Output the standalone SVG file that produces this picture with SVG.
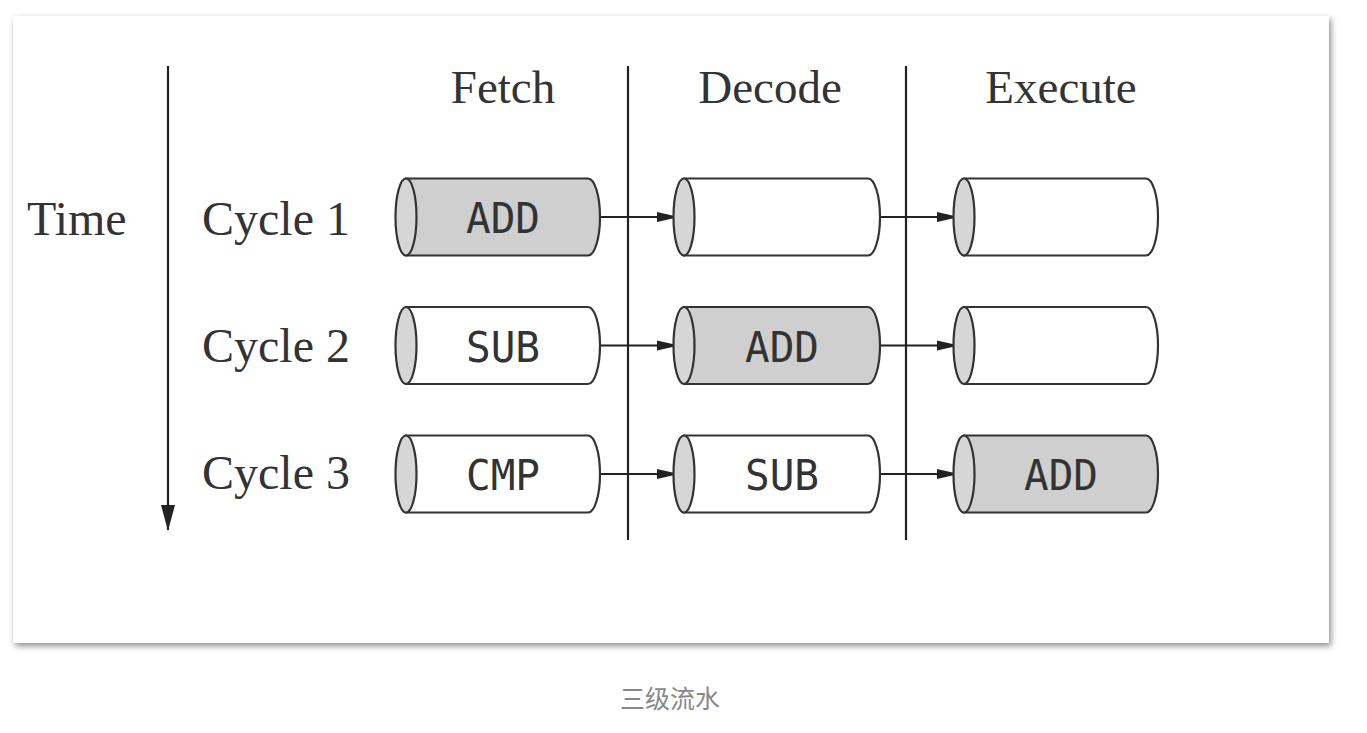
<svg xmlns="http://www.w3.org/2000/svg" width="1367" height="733" viewBox="0 0 1367 733">
<defs>
<filter id="sh" x="-5%" y="-5%" width="110%" height="110%">
<feGaussianBlur in="SourceAlpha" stdDeviation="3"/>
<feOffset dx="2" dy="3"/>
<feComponentTransfer><feFuncA type="linear" slope="0.45"/></feComponentTransfer>
<feMerge><feMergeNode/><feMergeNode in="SourceGraphic"/></feMerge>
</filter>
<marker id="ah" viewBox="0 0 22 12" refX="21" refY="6" markerWidth="22" markerHeight="12" markerUnits="userSpaceOnUse" orient="auto">
<path d="M0,1 L22,6 L0,11 Z" fill="#222"/>
</marker>
<marker id="ahT" viewBox="0 0 26 14" refX="25" refY="7" markerWidth="26" markerHeight="14" markerUnits="userSpaceOnUse" orient="auto">
<path d="M0,0 L26,7 L0,14 Z" fill="#222"/>
</marker>
</defs>
<style>
.hd{font-family:"Liberation Serif","DejaVu Serif",serif;font-size:47px;fill:#333;}
.lb{font-family:"Liberation Serif","DejaVu Serif",serif;font-size:48px;fill:#333;}
.op{font-family:"DejaVu Sans Mono","Liberation Mono",monospace;font-size:43px;fill:#333;text-anchor:middle;}
.body{stroke:#333;stroke-width:2.2;}
.on{fill:#cfcfcf;}
.off{fill:#ffffff;}
.cap{fill:#d6d6d6;stroke:#333;stroke-width:2.2;}
.ln{stroke:#222;stroke-width:2.2;fill:none;}
</style>
<rect x="13" y="16" width="1316" height="627" fill="#fff" filter="url(#sh)"/>
<rect x="13" y="16" width="1316" height="627" fill="#fff"/>

<g id="headers">
<text class="hd" x="503" y="103" text-anchor="middle">Fetch</text>
<text class="hd" x="770" y="103" text-anchor="middle">Decode</text>
<text class="hd" x="1061" y="103" text-anchor="middle">Execute</text>
</g>
<g id="labels">
<text class="lb" x="27" y="235">Time</text>
<text class="lb" x="202" y="235">Cycle 1</text>
<text class="lb" x="202" y="362">Cycle 2</text>
<text class="lb" x="202" y="489">Cycle 3</text>
</g>

<g id="connectors">
<line class="ln" x1="168" y1="66" x2="168" y2="530" marker-end="url(#ahT)"/>
<line class="ln" x1="628" y1="66" x2="628" y2="540"/>
<line class="ln" x1="906" y1="66" x2="906" y2="540"/>
<line class="ln" x1="600" y1="217" x2="678" y2="217" marker-end="url(#ah)"/>
<line class="ln" x1="880" y1="217" x2="958" y2="217" marker-end="url(#ah)"/>
<line class="ln" x1="600" y1="345.5" x2="678" y2="345.5" marker-end="url(#ah)"/>
<line class="ln" x1="880" y1="345.5" x2="958" y2="345.5" marker-end="url(#ah)"/>
<line class="ln" x1="600" y1="474" x2="678" y2="474" marker-end="url(#ah)"/>
<line class="ln" x1="880" y1="474" x2="958" y2="474" marker-end="url(#ah)"/>
</g>

<g id="f1"><path class="body on" d="M406,178.5 H588 A12,38.5 0 0 1 588,255.5 H406 Z"/><ellipse class="cap" cx="406" cy="217" rx="10.5" ry="38.5"/><text class="op" x="503" y="233" textLength="74" lengthAdjust="spacingAndGlyphs">ADD</text></g>
<g id="d1"><path class="body off" d="M684,178.5 H868 A12,38.5 0 0 1 868,255.5 H684 Z"/><ellipse class="cap" cx="684" cy="217" rx="10.5" ry="38.5"/></g>
<g id="e1"><path class="body off" d="M964,178.5 H1146 A12,38.5 0 0 1 1146,255.5 H964 Z"/><ellipse class="cap" cx="964" cy="217" rx="10.5" ry="38.5"/></g>

<g id="f2"><path class="body off" d="M406,307 H588 A12,38.5 0 0 1 588,384 H406 Z"/><ellipse class="cap" cx="406" cy="345.5" rx="10.5" ry="38.5"/><text class="op" x="503" y="361.5" textLength="74" lengthAdjust="spacingAndGlyphs">SUB</text></g>
<g id="d2"><path class="body on" d="M684,307 H868 A12,38.5 0 0 1 868,384 H684 Z"/><ellipse class="cap" cx="684" cy="345.5" rx="10.5" ry="38.5"/><text class="op" x="782" y="361.5" textLength="74" lengthAdjust="spacingAndGlyphs">ADD</text></g>
<g id="e2"><path class="body off" d="M964,307 H1146 A12,38.5 0 0 1 1146,384 H964 Z"/><ellipse class="cap" cx="964" cy="345.5" rx="10.5" ry="38.5"/></g>

<g id="f3"><path class="body off" d="M406,435.5 H588 A12,38.5 0 0 1 588,512.5 H406 Z"/><ellipse class="cap" cx="406" cy="474" rx="10.5" ry="38.5"/><text class="op" x="503" y="490" textLength="74" lengthAdjust="spacingAndGlyphs">CMP</text></g>
<g id="d3"><path class="body off" d="M684,435.5 H868 A12,38.5 0 0 1 868,512.5 H684 Z"/><ellipse class="cap" cx="684" cy="474" rx="10.5" ry="38.5"/><text class="op" x="782" y="490" textLength="74" lengthAdjust="spacingAndGlyphs">SUB</text></g>
<g id="e3"><path class="body on" d="M964,435.5 H1146 A12,38.5 0 0 1 1146,512.5 H964 Z"/><ellipse class="cap" cx="964" cy="474" rx="10.5" ry="38.5"/><text class="op" x="1061" y="490" textLength="74" lengthAdjust="spacingAndGlyphs">ADD</text></g>

<text x="670" y="708" text-anchor="middle" font-family="'Noto Sans CJK SC', sans-serif" font-size="25" fill="#888">三级流水</text>
</svg>
